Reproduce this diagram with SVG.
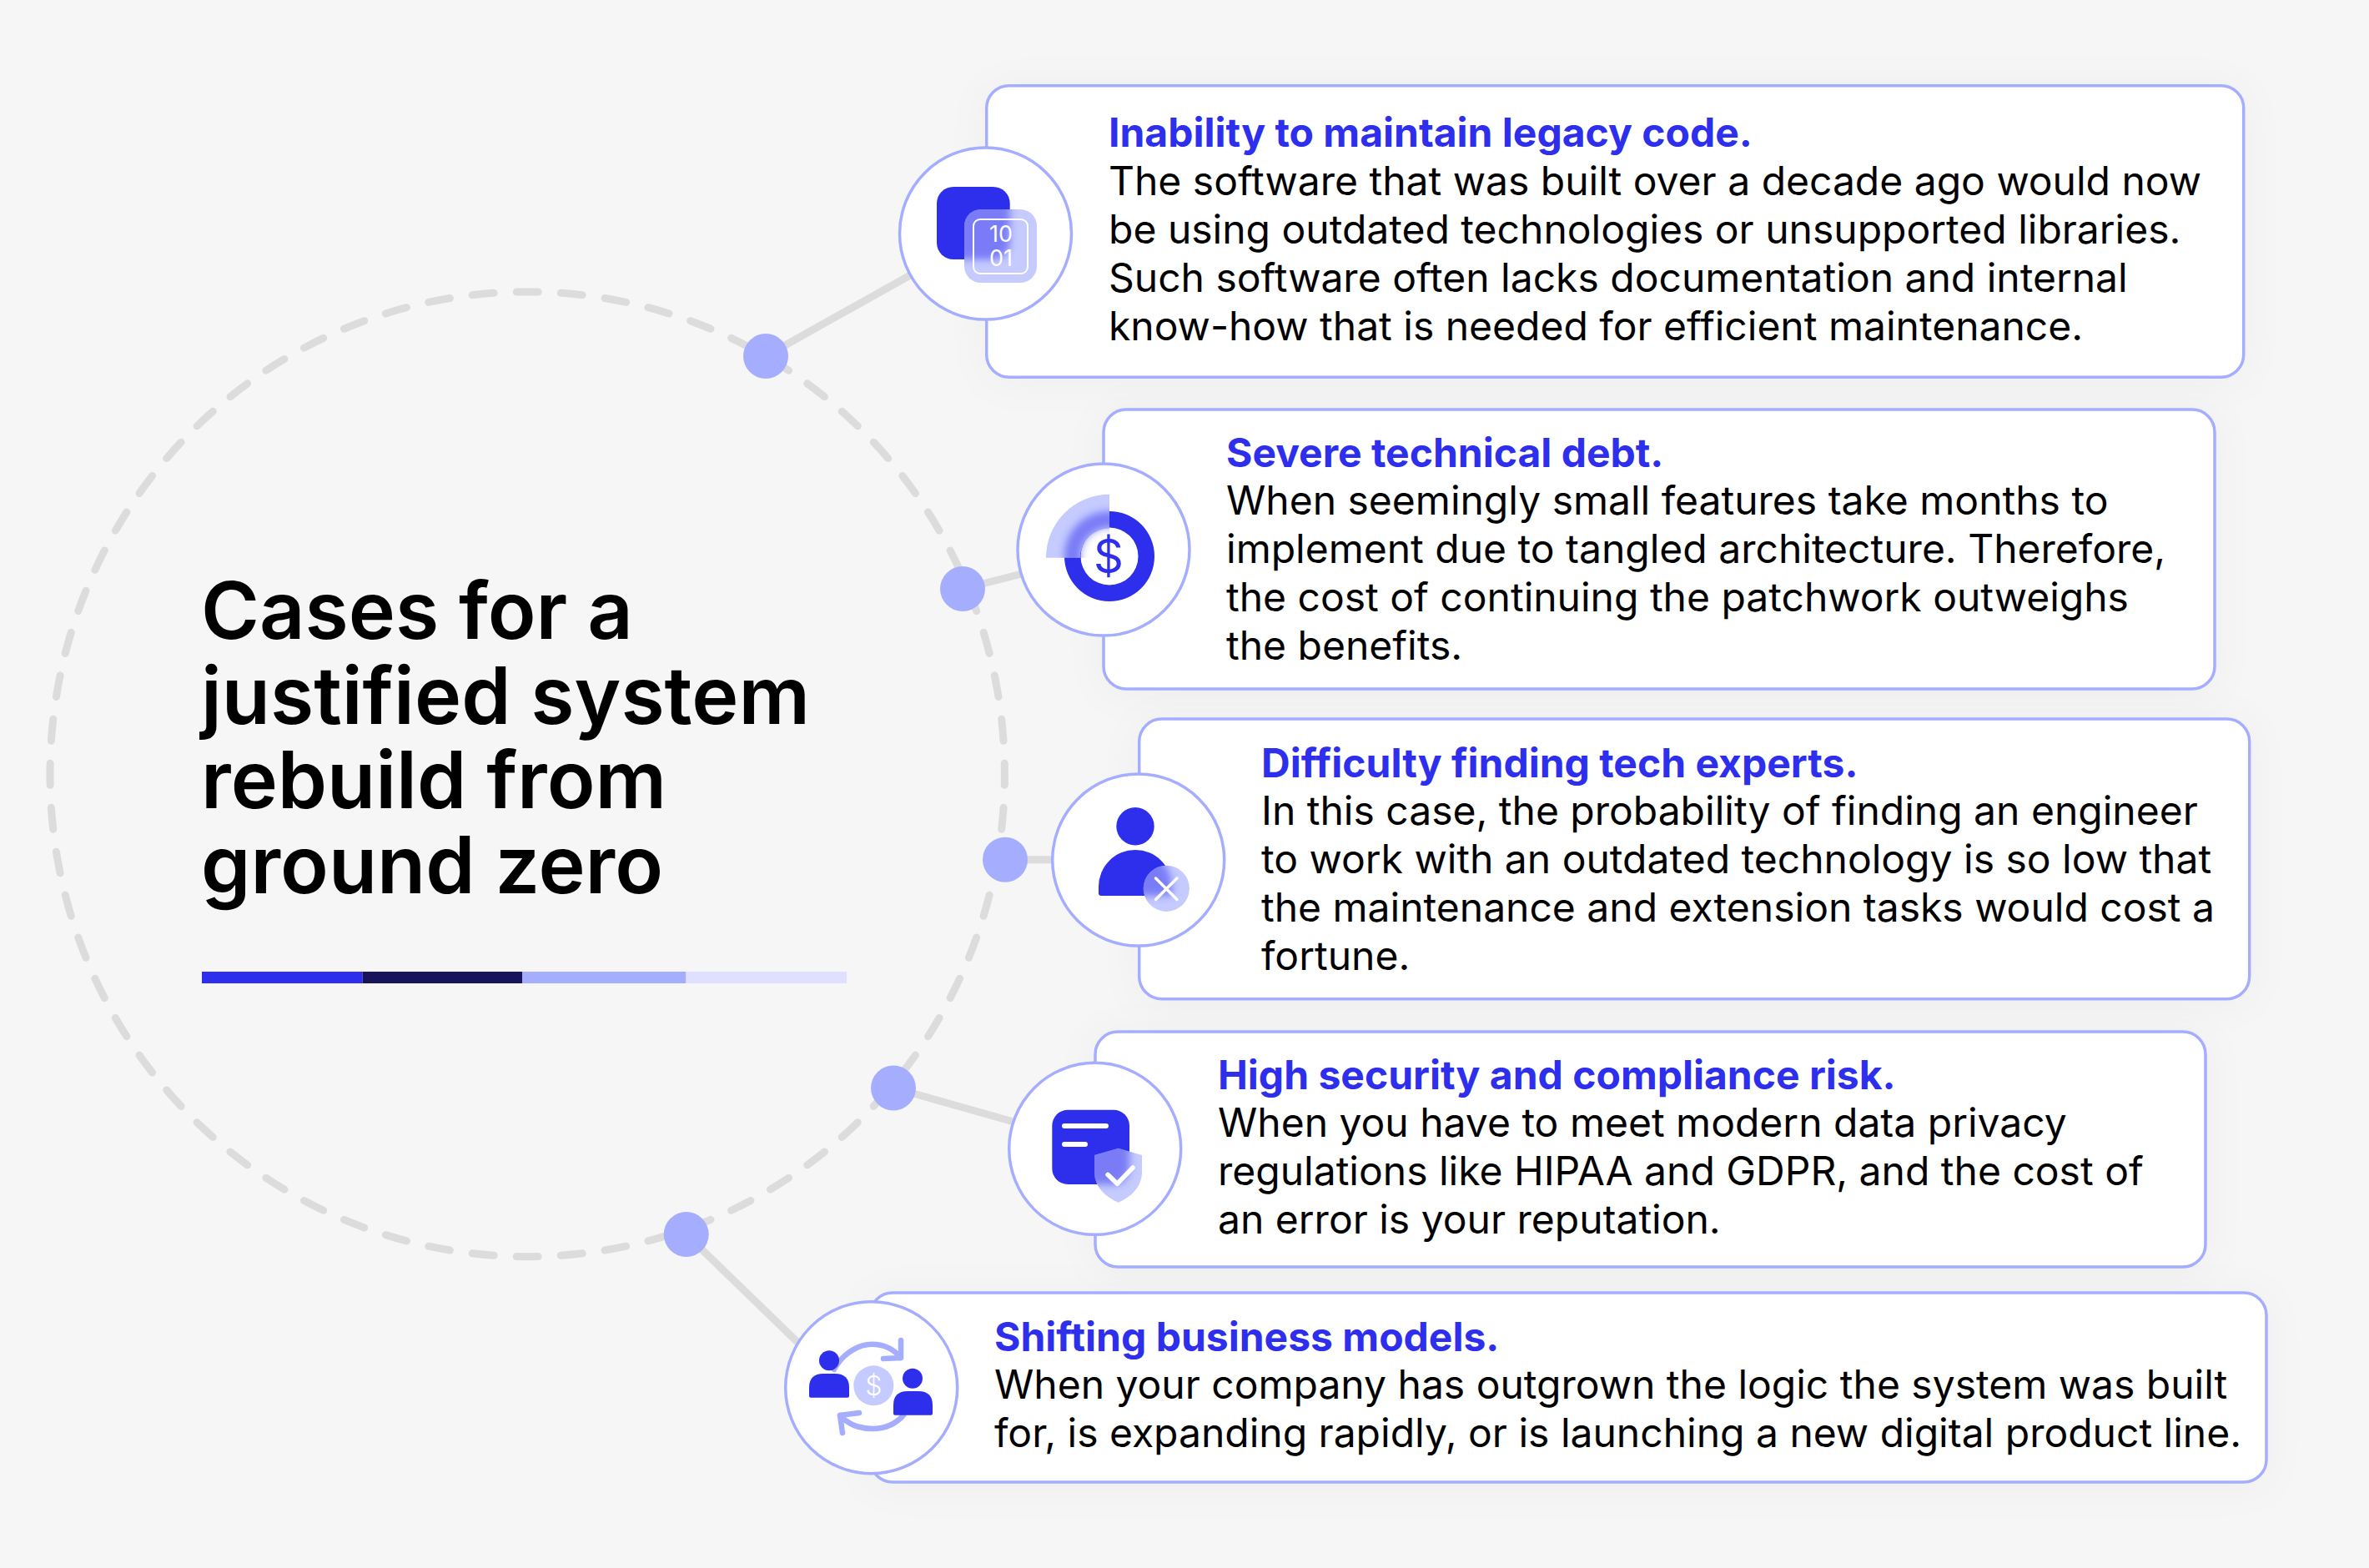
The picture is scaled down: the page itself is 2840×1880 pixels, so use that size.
<svg xmlns="http://www.w3.org/2000/svg" width="2840" height="1880" viewBox="0 0 2840 1880">
<style>
text{font-family:Inter,"Liberation Sans",sans-serif}
.card{fill:#fff;stroke:#a5adff;stroke-width:3.5;filter:url(#sh)}
.ring{fill:#fff;stroke:#a5adff;stroke-width:3.5}
.h{font-size:48px;font-weight:700;fill:#2e2eed}
.b{font-size:48px;font-weight:400;fill:#000}
.t{font-size:95px;font-weight:600;fill:#000}
.con{stroke:#dcdcdc;stroke-width:9;fill:none}
.dot{fill:#a5adff}
.blue{fill:#2e2eed}
.glass{fill:#c5cbff}
.w{stroke:#fff;fill:none;stroke-linecap:round;stroke-linejoin:round}
.arr{stroke:#a5adff;stroke-width:6.5;fill:none;stroke-linecap:round;stroke-linejoin:round}
</style>
<defs>
<filter id="sh" x="-10%" y="-30%" width="120%" height="160%"><feDropShadow dx="0" dy="4" stdDeviation="24" flood-color="#000" flood-opacity="0.035"/></filter>
<filter id="bl" x="-30%" y="-30%" width="160%" height="160%"><feGaussianBlur stdDeviation="5"/></filter>
<clipPath id="c1"><rect x="1156" y="251" width="87" height="88" rx="20"/></clipPath>
<clipPath id="c2"><path d="M1330 592.700A76 76 0 0 0 1254 668.700H1330Z"/></clipPath>
<clipPath id="c3"><circle cx="1398.300" cy="1065.300" r="27.600"/></clipPath>
<clipPath id="c4"><path d="M1340.700 1376.700L1369 1385V1405C1369 1423 1356 1435 1340.700 1441.700C1325 1435 1312 1423 1312 1405V1385Z"/></clipPath>
</defs>
<rect width="2840" height="1880" fill="#f6f6f6"/>
<g id="connectors">
<ellipse cx="632.200" cy="928.300" rx="572.200" ry="578.400" fill="none" stroke="#dcdcdc" stroke-width="9" stroke-linecap="round" pathLength="6800" stroke-dasharray="49 51" stroke-dashoffset="24.500"/>
<path class="con" d="M918 427L1100 325M1154 706L1225 688M1205 1030.700H1265M1070 1304L1215 1345M822.700 1480L960 1613"/>
<circle class="dot" cx="918" cy="427" r="27"/>
<circle class="dot" cx="1154" cy="706" r="27"/>
<circle class="dot" cx="1205" cy="1030.700" r="27"/>
<circle class="dot" cx="1071" cy="1304.500" r="27"/>
<circle class="dot" cx="822.700" cy="1480" r="27"/>
</g>
<g id="title">
<text class="t" x="241" y="766">Cases for a</text>
<text class="t" x="241" y="868">justified system</text>
<text class="t" x="241" y="969">rebuild from</text>
<text class="t" x="241" y="1071">ground zero</text>
<rect x="242" y="1165" width="192.500" height="14" fill="#2e2eed"/>
<rect x="434.500" y="1165" width="191.500" height="14" fill="#18145c"/>
<rect x="626" y="1165" width="196.500" height="14" fill="#a5adff"/>
<rect x="822.500" y="1165" width="192.500" height="14" fill="#dfe0ff"/>
</g>
<g id="node1">
<rect class="card" x="1182.700" y="102.700" width="1507" height="349.500" rx="27"/>
<circle class="ring" cx="1181.500" cy="280" r="103"/>
<rect class="blue" x="1123" y="224" width="87.700" height="87" rx="20"/>
<rect class="glass" x="1156" y="251" width="87" height="88" rx="20"/>
<g clip-path="url(#c1)"><rect x="1123" y="224" width="87.700" height="87" rx="20" fill="#2e2eed" opacity="0.5" filter="url(#bl)"/></g>
<rect class="w" x="1167" y="263" width="65" height="65" rx="8" stroke-width="2"/>
<text x="1200" y="290" font-size="27" fill="#fff" text-anchor="middle">10</text>
<text x="1200" y="319" font-size="27" fill="#fff" text-anchor="middle">01</text>
<text class="h" x="1329" y="176">Inability to maintain legacy code.</text>
<text class="b" x="1329" y="234">The software that was built over a decade ago would now</text>
<text class="b" x="1329" y="292">be using outdated technologies or unsupported libraries.</text>
<text class="b" x="1329" y="350">Such software often lacks documentation and internal</text>
<text class="b" x="1329" y="408">know-how that is needed for efficient maintenance.</text>
</g>
<g id="node2">
<rect class="card" x="1323" y="491" width="1332" height="335" rx="27"/>
<circle class="ring" cx="1323" cy="659" r="103"/>
<path class="blue" fill-rule="evenodd" d="M1330 613a54 54 0 1 1-54 54a54 54 0 0 1 54-54zM1330 632.500a34.500 34.500 0 1 0 0 69a34.500 34.500 0 0 0 0-69z"/>
<path class="glass" d="M1330 592.700A76 76 0 0 0 1254 668.700H1295A35 35 0 0 1 1330 633.500Z"/>
<g clip-path="url(#c2)"><path fill-rule="evenodd" fill="#2e2eed" opacity="0.5" filter="url(#bl)" d="M1330 613a54 54 0 1 0 0 108a54 54 0 0 0 0-108zM1330 632.500a34.500 34.500 0 1 1 0 69a34.500 34.500 0 0 1 0-69z"/></g>
<text x="1329" y="687" font-size="56" font-weight="400" fill="#2e2eed" text-anchor="middle">$</text>
<text class="h" x="1470" y="560">Severe technical debt.</text>
<text class="b" x="1470" y="617">When seemingly small features take months to</text>
<text class="b" x="1470" y="675">implement due to tangled architecture. Therefore,</text>
<text class="b" x="1470" y="733">the cost of continuing the patchwork outweighs</text>
<text class="b" x="1470" y="791">the benefits.</text>
</g>
<g id="node3">
<rect class="card" x="1365.700" y="862" width="1331" height="335.700" rx="27"/>
<circle class="ring" cx="1364.700" cy="1031" r="103"/>
<circle class="blue" cx="1361" cy="990.700" r="22.700"/>
<path class="blue" d="M1317 1071V1063A44 44 0 0 1 1405 1063L1405 1074H1320Q1317 1074 1317 1071Z"/>
<circle class="glass" cx="1398.300" cy="1065.300" r="27.600"/>
<g clip-path="url(#c3)"><path fill="#2e2eed" opacity="0.5" filter="url(#bl)" d="M1317 1071V1063A44 44 0 0 1 1405 1063L1405 1074H1320Q1317 1074 1317 1071Z"/></g>
<path class="w" stroke-width="3.500" d="M1385.500 1053L1411 1078.500M1411 1053L1385.500 1078.500"/>
<text class="h" x="1512" y="932">Difficulty finding tech experts.</text>
<text class="b" x="1512" y="989">In this case, the probability of finding an engineer</text>
<text class="b" x="1512" y="1047">to work with an outdated technology is so low that</text>
<text class="b" x="1512" y="1105">the maintenance and extension tasks would cost a</text>
<text class="b" x="1512" y="1163">fortune.</text>
</g>
<g id="node4">
<rect class="card" x="1313" y="1237" width="1331" height="282" rx="27"/>
<circle class="ring" cx="1312.700" cy="1377.300" r="103"/>
<rect class="blue" x="1261.300" y="1330.700" width="92.700" height="89.300" rx="19"/>
<path class="w" stroke-width="6" d="M1276 1350H1326M1276 1372H1301"/>
<path class="glass" d="M1340.700 1376.700L1369 1385V1405C1369 1423 1356 1435 1340.700 1441.700C1325 1435 1312 1423 1312 1405V1385Z"/>
<g clip-path="url(#c4)"><rect x="1261.300" y="1330.700" width="92.700" height="89.300" rx="19" fill="#2e2eed" opacity="0.5" filter="url(#bl)"/></g>
<path class="w" stroke-width="5.500" d="M1328 1408.300L1339.300 1419.300L1358 1400"/>
<text class="h" x="1460" y="1306">High security and compliance risk.</text>
<text class="b" x="1460" y="1363">When you have to meet modern data privacy</text>
<text class="b" x="1460" y="1421">regulations like HIPAA and GDPR, and the cost of</text>
<text class="b" x="1460" y="1479">an error is your reputation.</text>
</g>
<g id="node5">
<rect class="card" x="1043" y="1550" width="1674" height="227" rx="27"/>
<circle class="ring" cx="1044.700" cy="1663.700" r="103"/>
<path class="arr" d="M1000 1642C1012 1620 1032 1611.700 1045 1611.700C1060 1611.700 1072 1618 1080 1628M1080 1607V1628L1059 1629"/>
<path class="arr" d="M1083 1697C1073 1708 1060 1713 1046 1713C1030 1713 1016 1707 1007 1697M1010 1718L1007 1697L1030 1694"/>
<circle class="blue" cx="994" cy="1631.300" r="12"/>
<path class="blue" d="M970 1674V1664Q970 1647 987 1647H1001Q1018 1647 1018 1664V1674Q1018 1675.700 1016 1675.700H972Q970 1675.700 970 1674Z"/>
<circle class="blue" cx="1094" cy="1652.700" r="12"/>
<path class="blue" d="M1071 1695V1685Q1071 1668 1088 1668H1101Q1118 1668 1118 1685V1695Q1118 1696.700 1116 1696.700H1073Q1071 1696.700 1071 1695Z"/>
<circle class="glass" cx="1047.300" cy="1661.300" r="24"/>
<text x="1047.300" y="1673" font-size="32" font-weight="300" fill="#fff" text-anchor="middle">$</text>
<text class="h" x="1192" y="1620">Shifting business models.</text>
<text class="b" x="1192" y="1677">When your company has outgrown the logic the system was built</text>
<text class="b" x="1192" y="1735">for, is expanding rapidly, or is launching a new digital product line.</text>
</g>
</svg>
